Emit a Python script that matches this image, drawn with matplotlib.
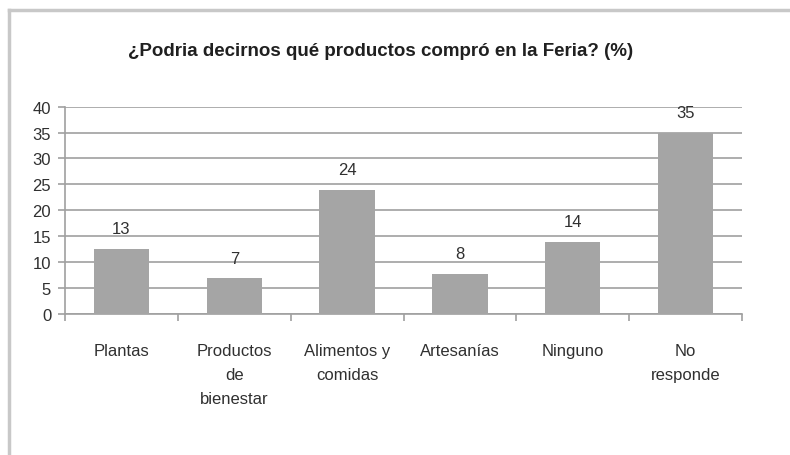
import numpy as np
import matplotlib

matplotlib.use('Agg')

import matplotlib.pyplot as plt
from matplotlib.lines import Line2D

plt.rcParams['font.family'] = ['Liberation Sans Narrow', 'Liberation Sans', 'DejaVu Sans']

# data (bar heights, labels shown rounded)
categories = ['Plantas', 'Productos\nde\nbienestar', 'Alimentos y\ncomidas',
              'Artesanías', 'Ninguno', 'No\nresponde']
values = [12.6, 6.9, 24.0, 7.8, 13.9, 35.0]
yticks = [0, 5, 10, 15, 20, 25, 30, 35, 40]
title = '¿Podria decirnos qué productos compró en la Feria? (%)'

grid_col = '#a0a0a0'
bar_col = '#a5a5a5'

fig = plt.figure(figsize=(7.9, 4.56), dpi=100)
ax = fig.add_axes([0.0823, 0.309, 0.857, 0.455])

x = np.arange(len(categories))
bars = ax.bar(x, values, width=0.49, color=bar_col, zorder=3)

# data labels
for b, v in zip(bars, values):
    ax.annotate(f'{v:.0f}', (b.get_x() + b.get_width() / 2, v),
                xytext=(0, 9), textcoords='offset points',
                ha='center', va='bottom', fontsize=12, color='#303030')

ax.set_xlim(-0.5, len(categories) - 0.5)
ax.set_ylim(0, 40)
ax.set_yticks(yticks)
ax.yaxis.grid(True, color=grid_col, linewidth=1.2, zorder=0)

ax.set_xticks(x)
ax.set_xticklabels(categories, fontsize=12, color='#303030', linespacing=1.75, va='top')
ax.set_xticks(np.arange(-0.5, len(categories)), minor=True)
ax.tick_params(axis='x', which='major', length=0, pad=21)
ax.tick_params(axis='x', which='minor', length=5, color=grid_col, width=1.2, direction='out')
ax.tick_params(axis='y', length=5, color=grid_col, width=1.2, labelsize=12,
               labelcolor='#303030', pad=5)

for s in ['top', 'right']:
    ax.spines[s].set_visible(False)
for s in ['left', 'bottom']:
    ax.spines[s].set_color(grid_col)
    ax.spines[s].set_linewidth(1.2)

fig.text(0.482, 0.887, title, ha='center', va='center', fontsize=13.5,
         fontweight='bold', color='#202020')

# chart frame (left and top edges visible in the crop)
fig.add_artist(Line2D([0.012, 0.012], [0.0, 0.975], color='#c8c8c8', linewidth=2.5))
fig.add_artist(Line2D([0.012, 1.0], [0.975, 0.975], color='#c8c8c8', linewidth=2.5))

plt.savefig('out.png', dpi=100)
